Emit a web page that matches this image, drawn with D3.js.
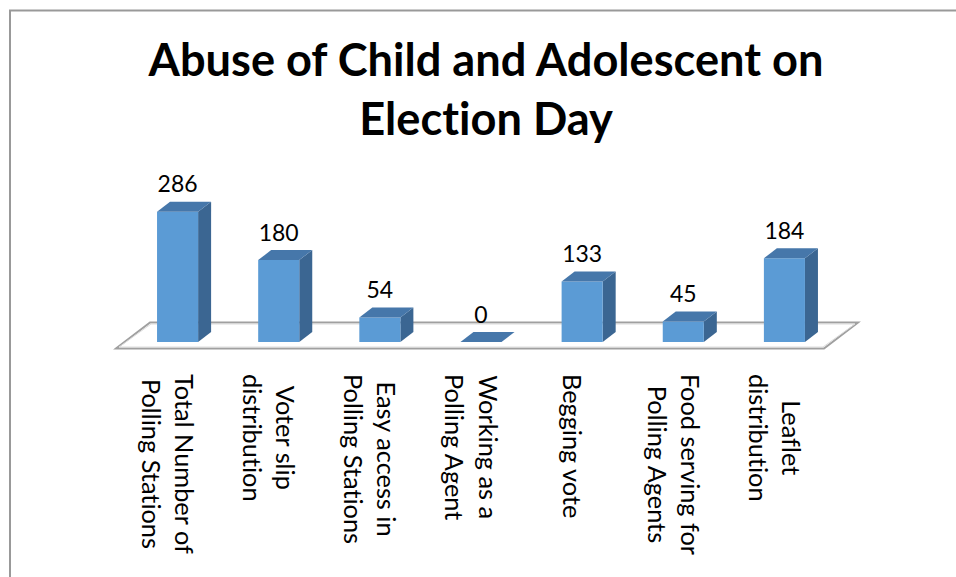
<!DOCTYPE html>
<html>
<head>
<meta charset="utf-8">
<script src="https://cdn.jsdelivr.net/npm/d3@7"></script>
<style>
  html, body { margin: 0; padding: 0; background: #fff; }
  svg { display: block; }
  text { font-variant-ligatures: none; font-feature-settings: "liga" 0, "clig" 0; }
</style>
</head>
<body>
<svg id="chart" width="956" height="577"></svg>
<script>
// ---- data ----
const titleLines = ["Abuse of Child and Adolescent on", "Election Day"];
const categories = [
  "Total Number of\nPolling Stations",
  "Voter slip\ndistribution",
  "Easy access in\nPolling Stations",
  "Working as a\nPolling Agent",
  "Begging vote",
  "Food serving for\nPolling Agents",
  "Leaflet\ndistribution"
];
const values = [286, 180, 54, 0, 133, 45, 184];

// ---- layout ----
const FONT = "Lato, 'Open Sans', sans-serif";
const svg = d3.select("#chart");
const W = 956, H = 577;

svg.append("rect").attr("x", 0).attr("y", 0).attr("width", W).attr("height", H).attr("fill", "#fff");
// outer frame (extends past the picture on the right and bottom)
svg.append("rect")
  .attr("x", 10).attr("y", 10.5).attr("width", 1200).attr("height", 1200)
  .attr("fill", "none").attr("stroke", "#999").attr("stroke-width", 2);

function fitSize(str, target, weight) {
  const t = svg.append("text").attr("font-family", FONT).attr("font-weight", weight)
    .attr("font-size", 100).text(str);
  const w = t.node().getComputedTextLength();
  t.remove();
  return 100 * target / w;
}

// floor geometry
const floorFrontY = 348.5;
const floorDepth = { dx: 34, dy: -26 };
const barFront = { dx: 11, dy: -6.5 };
const barDepth = { dx: 13, dy: -10 };

const x = d3.scaleBand()
  .domain(categories)
  .range([116, 824])
  .paddingInner(0.594)
  .paddingOuter(0.297);

const baseY = floorFrontY + barFront.dy; // bar front bottom
const y = d3.scaleLinear().domain([0, 300]).range([baseY, baseY - 300 * 0.455]);

// floor
const fx0 = x.range()[0], fx1 = x.range()[1];
svg.append("polygon")
  .attr("points", [
    [fx0, floorFrontY], [fx1, floorFrontY],
    [fx1 + floorDepth.dx, floorFrontY + floorDepth.dy],
    [fx0 + floorDepth.dx, floorFrontY + floorDepth.dy]
  ].map(p => p.join(",")).join(" "))
  .attr("fill", "#fff").attr("stroke", "#a0a0a0").attr("stroke-width", 2)
  .attr("stroke-linejoin", "miter");
svg.append("polygon")
  .attr("points", [
    [fx0 + 3, floorFrontY - 1.5], [fx1 - 1, floorFrontY - 1.5],
    [fx1 + floorDepth.dx - 3, floorFrontY + floorDepth.dy + 1.5],
    [fx0 + floorDepth.dx + 1, floorFrontY + floorDepth.dy + 1.5]
  ].map(p => p.join(",")).join(" "))
  .attr("fill", "none").attr("stroke", "#dcdcdc").attr("stroke-width", 1);

// bars
const bw = x.bandwidth();
const g = svg.append("g");
const bars = g.selectAll("g.bar").data(categories.map((c, i) => ({ c, v: values[i] })))
  .enter().append("g").attr("class", "bar");

bars.each(function (d) {
  const sel = d3.select(this);
  const x0 = x(d.c) + barFront.dx;
  const x1 = x0 + bw;
  const yt = y(d.v), yb = y(0);
  const dx = barDepth.dx, dy = barDepth.dy;
  const pts = a => a.map(p => p.join(",")).join(" ");
  if (d.v > 0) {
    sel.append("polygon").attr("points", pts([[x1, yt], [x1 + dx, yt + dy], [x1 + dx, yb + dy], [x1, yb]]))
      .attr("fill", "#3b6692");
    sel.append("polygon").attr("points", pts([[x0, yt], [x1, yt], [x1, yb], [x0, yb]]))
      .attr("fill", "#5b9bd5");
  }
  sel.append("polygon").attr("points", pts([[x0, yt], [x0 + dx, yt + dy], [x1 + dx, yt + dy], [x1, yt]]))
    .attr("fill", "#4677aa");
});

// value labels
const valSize = fitSize("286", 40, "normal");
bars.append("text")
  .attr("x", d => x(d.c) + barFront.dx + bw / 2)
  .attr("y", d => y(d.v) - 19.5)
  .attr("text-anchor", "middle")
  .attr("font-family", FONT).attr("font-size", valSize).attr("fill", "#000")
  .text(d => d.v);

// category labels (rotated 90deg clockwise, top-aligned block)
const catSize = fitSize("Total Number of", 180, "normal");
const lineH = 33.3;
const labelTop = 374;
categories.forEach(c => {
  const lines = c.split("\n");
  const cx = x(c) + bw / 2;
  const t = svg.append("text")
    .attr("font-family", FONT).attr("font-size", catSize).attr("fill", "#000")
    .attr("text-anchor", "middle");
  const spans = lines.map((ln, i) => t.append("tspan").text(ln));
  const maxLen = d3.max(spans, s => s.node().getComputedTextLength());
  spans.forEach((s, i) => {
    s.attr("x", maxLen / 2).attr("y", 8 + lineH * (i - (lines.length - 1) / 2));
  });
  t.attr("transform", `translate(${cx},${labelTop}) rotate(90)`);
});

// title
const titleSize = fitSize(titleLines[0], 675, "bold");
const title = svg.append("text")
  .attr("font-family", FONT).attr("font-weight", "bold").attr("font-size", titleSize)
  .attr("text-anchor", "middle").attr("fill", "#000");
titleLines.forEach((ln, i) => {
  title.append("tspan").attr("x", 486).attr("y", 76 + i * 59).text(ln);
});
</script>
</body>
</html>
